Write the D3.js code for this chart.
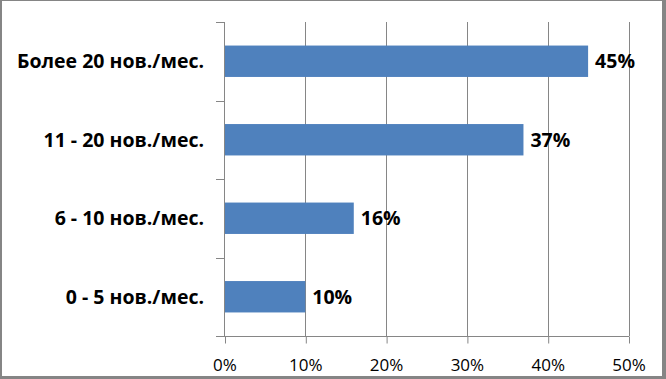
<!DOCTYPE html>
<html><head><meta charset="utf-8">
<script src="https://cdn.jsdelivr.net/npm/d3@7"></script>
<style>body{margin:0;background:#fff}svg{display:block}</style>
</head><body>
<svg id="c" width="666" height="379"></svg>
<script>
const categories = ["Более 20 нов./мес.", "11 - 20 нов./мес.", "6 - 10 нов./мес.", "0 - 5 нов./мес."];
const values = [45, 37, 16, 10];
const xTicks = [0, 10, 20, 30, 40, 50];

const svg = d3.select("#c");
const W = 666, H = 379;
const font = "'Open Sans', 'Noto Sans', sans-serif";
const grid = "#868686";

// border
svg.append("rect").attr("x",0).attr("y",0).attr("width",W).attr("height",H).attr("fill","#858585");
svg.append("rect").attr("x",2).attr("y",1).attr("width",660).attr("height",375).attr("fill","#fff");

const x = d3.scaleLinear().domain([0,50]).range([224.5,628.5]);
const y = d3.scaleBand().domain(categories).range([22,336]).paddingInner(0.6).paddingOuter(0.3);
const yb = d3.scaleBand().domain(categories).range([22,336]);

// gridlines
svg.append("g").selectAll("line").data(xTicks.slice(1)).join("line")
  .attr("x1",d=>Math.round(x(d))+0.5).attr("x2",d=>Math.round(x(d))+0.5)
  .attr("y1",22).attr("y2",336).attr("stroke",grid).attr("stroke-width",1);

// bars
svg.append("g").selectAll("rect").data(values).join("rect")
  .attr("x",x(0)).attr("y",(d,i)=>y(categories[i]))
  .attr("width",d=>x(d)-x(0)).attr("height",y.bandwidth())
  .attr("fill","#4F81BD");

// x axis
const xa = svg.append("g").attr("transform","translate(0,336.5)")
  .call(d3.axisBottom(x).tickValues(xTicks).tickFormat(d=>d+"%").tickSize(7).tickPadding(15));
xa.select(".domain").remove();
xa.append("line").attr("x1",216).attr("x2",629).attr("y1",0).attr("y2",0).attr("stroke",grid);
xa.selectAll(".tick line").attr("stroke",grid).attr("transform","translate(0.5,0)");
xa.selectAll("text").attr("font-family",font).attr("font-size",17).attr("fill","#000");

// y axis
const ya = svg.append("g");
ya.append("line").attr("x1",224.5).attr("x2",224.5).attr("y1",22).attr("y2",336).attr("stroke",grid);
const bounds = categories.map(c=>yb(c)).concat([336]);
ya.selectAll("line.t").data(bounds).join("line").attr("class","t")
  .attr("x1",216).attr("x2",224.5).attr("y1",d=>Math.round(d)+0.5).attr("y2",d=>Math.round(d)+0.5).attr("stroke",grid);
ya.selectAll("text").data(categories).join("text")
  .attr("x",204).attr("y",d=>y(d)+y.bandwidth()/2).attr("dy","0.37em")
  .attr("text-anchor","end").attr("font-family",font).attr("font-weight","bold")
  .attr("font-size",19.5).attr("fill","#000").text(d=>d);

// value labels
svg.append("g").selectAll("text").data(values).join("text")
  .attr("x",d=>x(d)+7).attr("y",(d,i)=>y(categories[i])+y.bandwidth()/2).attr("dy","0.37em")
  .attr("font-family",font).attr("font-weight","bold").attr("font-size",19.5).attr("fill","#000")
  .text(d=>d+"%");
</script>
</body></html>
